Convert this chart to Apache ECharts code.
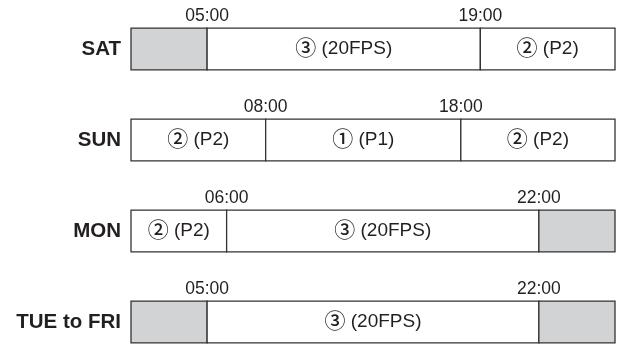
<!DOCTYPE html>
<html>
<head>
<meta charset="utf-8">
<script src="https://cdn.jsdelivr.net/npm/echarts@6/dist/echarts.min.js"></script>
<style>
html, body { margin: 0; padding: 0; background: #fff; }
#main { width: 618px; height: 345px; }
</style>
</head>
<body>
<div id="main"></div>
<script>
// rows of the schedule (top to bottom)
var days = ['SAT', 'SUN', 'MON', 'TUE to FRI'];
// switch-over hours inside each day
var boundaries = [[5, 19], [8, 18], [6, 22], [5, 22]];
// mode of each block between 0:00, the boundaries and 24:00 ('' = off, grey)
var modes = [
	['', '③ (20FPS)', '② (P2)'],
	['② (P2)', '① (P1)', '② (P2)'],
	['② (P2)', '③ (20FPS)', ''],
	['', '③ (20FPS)', '']
];

var textColor = '#231f20';
var fontFam = '"Liberation Sans", Arial, "DejaVu Sans", sans-serif';

// build one item per block : [start, end, row, label]
var blocks = [];
for (var r = 0; r < days.length; r++) {
	var cuts = [0].concat(boundaries[r]).concat([24]);
	for (var k = 0; k < cuts.length - 1; k++) {
		blocks.push([cuts[k], cuts[k + 1], r, modes[r][k]]);
	}
}

function hourText(h) {
	return ('0' + h).slice(-2) + ':00';
}

function renderItem(params, api) {
	var start = api.value(0);
	var end = api.value(1);
	var row = api.value(2);
	var label = blocks[params.dataIndex][3];
	var cs = params.coordSys;
	var h = api.size([0, 1])[1] * 0.46;
	var p0 = api.coord([start, row]);
	var p1 = api.coord([end, row]);
	// the figure is not to scale : the open ends of the day run to the frame edge
	var x0 = start <= 0 ? cs.x : p0[0];
	var x1 = end >= 24 ? cs.x + cs.width : p1[0];
	var cy = p0[1];

	var children = [{
		type: 'rect',
		shape: { x: x0, y: cy - h / 2, width: x1 - x0, height: h },
		style: { fill: label ? '#ffffff' : '#d1d3d4', stroke: '#333333', lineWidth: 1.3 }
	}];
	if (label) {
		// circled number drawn a bit larger, like in the figure
		children.push({
			type: 'text',
			x: (x0 + x1) / 2,
			y: cy,
			style: {
				text: '{c|' + label.charAt(0) + '}' + label.slice(1),
				fill: textColor, fontSize: 19, fontFamily: fontFam,
				align: 'center', verticalAlign: 'middle',
				rich: {
					c: {
						fontSize: 21, fontWeight: 500, fontFamily: '"Noto Sans CJK JP", "DejaVu Sans"',
						fill: textColor, verticalAlign: 'middle', padding: [0, 0, 3, 0]
					}
				}
			}
		});
	}
	if (start > 0) {
		children.push({
			type: 'text',
			x: x0,
			y: cy - h / 2 - 3,
			style: {
				text: hourText(start), fill: textColor, fontSize: 17.5, fontFamily: fontFam,
				align: 'center', verticalAlign: 'bottom'
			}
		});
	}
	return { type: 'group', children: children };
}

var option = {
	animation: false,
	grid: { left: 131, right: 3, top: 49, bottom: 23, containLabel: false },
	xAxis: {
		type: 'value',
		min: 1.1,
		max: 25.9,
		show: false
	},
	yAxis: {
		type: 'category',
		data: days,
		inverse: true,
		boundaryGap: false,
		axisLine: { show: false },
		axisTick: { show: false },
		splitLine: { show: false },
		axisLabel: {
			margin: 10,
			fontSize: 20.5,
			fontWeight: 'bold',
			fontFamily: fontFam,
			color: textColor
		}
	},
	series: [{
		type: 'custom',
		renderItem: renderItem,
		clip: false,
		encode: { x: [0, 1], y: 2 },
		data: blocks
	}]
};

var myChart = echarts.init(document.getElementById('main'));
myChart.setOption(option);
</script>
</body>
</html>
